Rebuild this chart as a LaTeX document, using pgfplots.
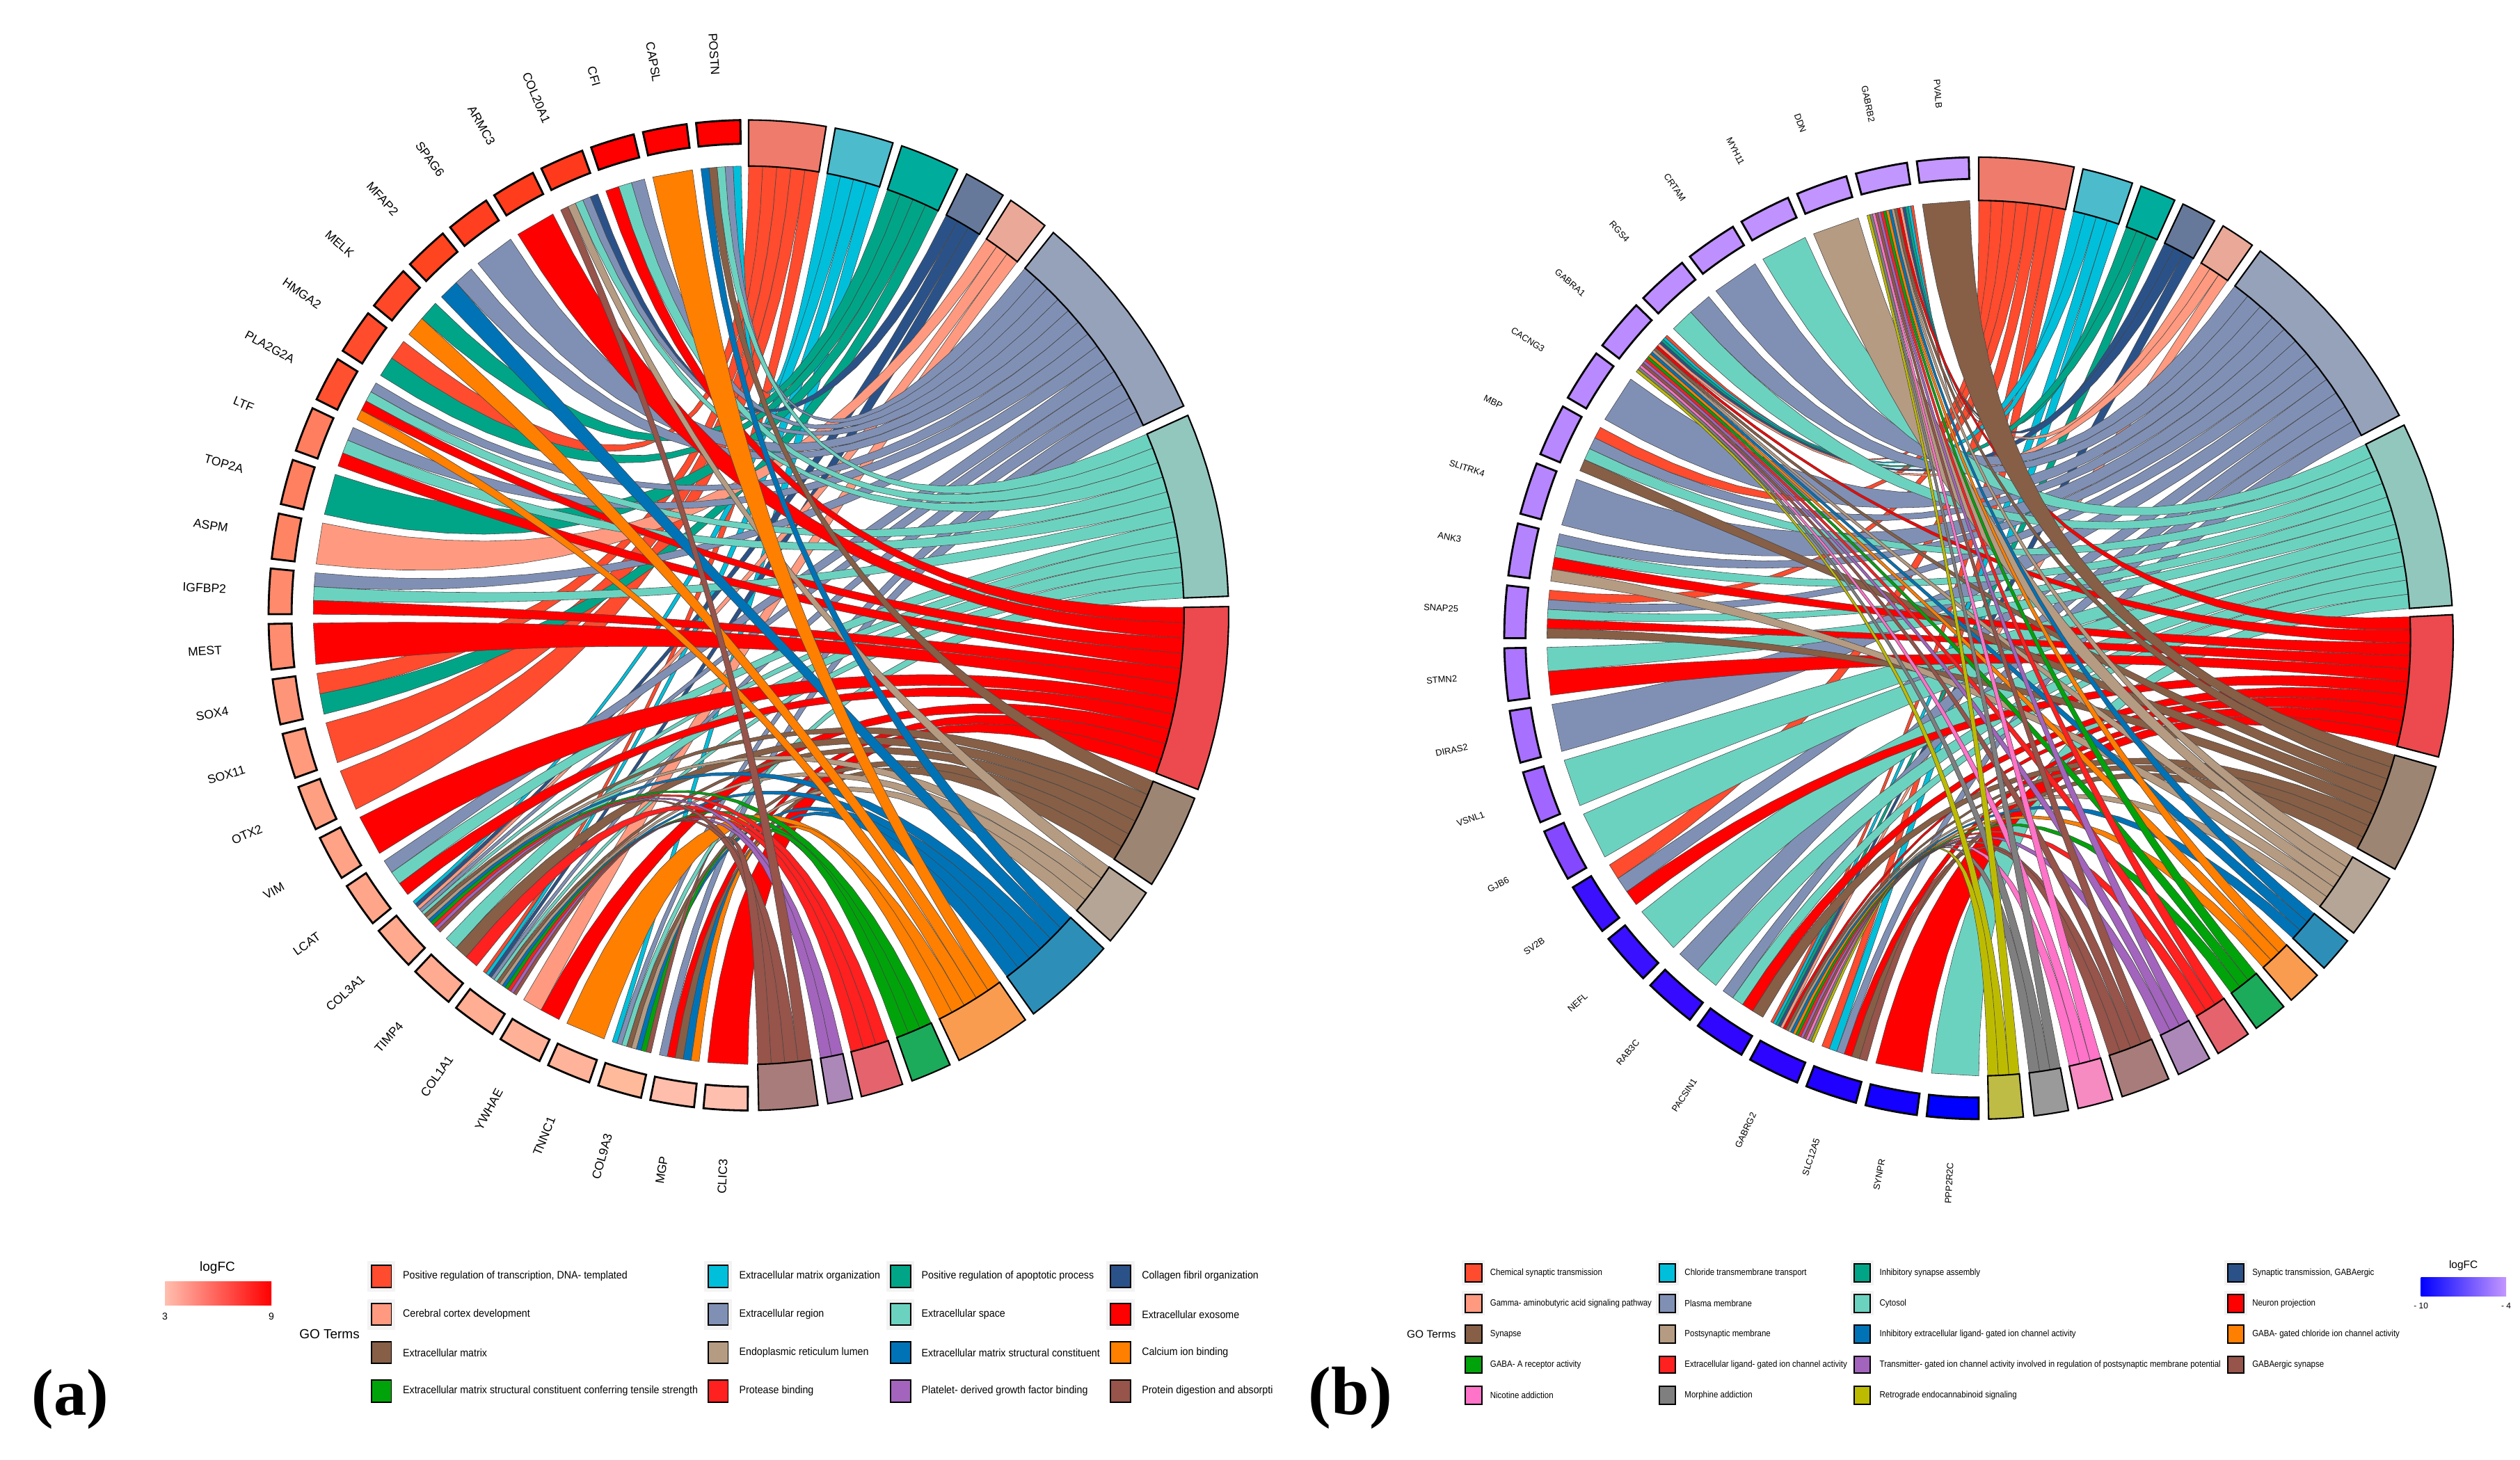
\documentclass[border=0pt]{standalone}
\usepackage{fontspec}
\setmainfont{Liberation Sans}
\newfontfamily\lserif{Liberation Serif}
\usepackage{pgfplots}
\pgfplotsset{compat=1.18}

% ribbon colours
\definecolor{r1}{HTML}{FF4B2E}\definecolor{r2}{HTML}{00BFDB}\definecolor{r3}{HTML}{00A587}
\definecolor{r4}{HTML}{2B5288}\definecolor{r5}{HTML}{FF9A80}\definecolor{r6}{HTML}{8090B5}
\definecolor{r7}{HTML}{6CD2C0}\definecolor{r8}{HTML}{FF0000}\definecolor{r9}{HTML}{865F46}
\definecolor{r10}{HTML}{B59B82}\definecolor{r11}{HTML}{0073B7}\definecolor{r12}{HTML}{FF7F00}
\definecolor{r13}{HTML}{00A30A}\definecolor{r14}{HTML}{FF2020}\definecolor{r15}{HTML}{A264BC}
\definecolor{r16}{HTML}{96544A}\definecolor{r17}{HTML}{FF73C8}\definecolor{r18}{HTML}{7F7F7F}
\definecolor{r19}{HTML}{BDBB00}
% term band colours
\definecolor{s1}{HTML}{EE7B6C}\definecolor{s2}{HTML}{4CBBCC}\definecolor{s3}{HTML}{00AD9D}
\definecolor{s4}{HTML}{66799B}\definecolor{s5}{HTML}{E9A898}\definecolor{s6}{HTML}{95A2B9}
\definecolor{s7}{HTML}{92C7BE}\definecolor{s8}{HTML}{EC4A4E}\definecolor{s9}{HTML}{9D8574}
\definecolor{s10}{HTML}{B5A596}\definecolor{s11}{HTML}{2D8FB8}\definecolor{s12}{HTML}{F99C50}
\definecolor{s13}{HTML}{1BAB5B}\definecolor{s14}{HTML}{E5636C}\definecolor{s15}{HTML}{AC88B8}
\definecolor{s16}{HTML}{A87C7A}\definecolor{s17}{HTML}{F58BC0}\definecolor{s18}{HTML}{9A9A9A}
\definecolor{s19}{HTML}{BFBC45}
\definecolor{keybg}{HTML}{F3F3F3}
\definecolor{rib}{HTML}{444444}
\definecolor{barlow}{HTML}{FFBFAF}
\definecolor{barhigh}{HTML}{C497FF}

% angles are degrees clockwise from the top of the ring
\def\cx{0}\def\cy{0}\def\rx{1}\def\ry{1}\def\rc{.907}\def\rg{.952}\def\gstyle{agene}
\def\bzlist{1/0,.9025/.0025,.81/.01,.7225/.0225,.64/.04,.5625/.0625,.49/.09,.4225/.1225,.36/.16,.3025/.2025,.25/.25,.2025/.3025,.16/.36,.1225/.4225,.09/.49,.0625/.5625,.04/.64,.0225/.7225,.01/.81,.0025/.9025,0/1}
\def\arclist{0,.1,.2,.3,.4,.5,.6,.7,.8,.9,1}

\newcommand\addedge[2]{%
  \pgfmathsetmacro\Ax{\rc*\rx*sin(#1)}\pgfmathsetmacro\Ay{-\rc*\ry*cos(#1)}%
  \pgfmathsetmacro\Bx{\rc*\rx*sin(#2)}\pgfmathsetmacro\By{-\rc*\ry*cos(#2)}%
  \foreach \u/\v in \bzlist {%
    \pgfmathsetmacro\X{\cx+\u*\Ax+\v*\Bx}\pgfmathsetmacro\Y{\cy+\u*\Ay+\v*\By}%
    \xdef\pts{\pts (\X,\Y)}}}
% one ribbon: colour, gene start, gene end, term start, term end
\def\C#1 #2 #3 #4 #5;{%
  \gdef\pts{}\addedge{#2}{#5}\addedge{#4}{#3}%
  \edef\tmp{\noexpand\addplot[fill=#1,draw=rib,line width=.16pt,line join=round] coordinates {\pts} --cycle;}\tmp}

% ring segment: colour, start, end, inner radius, line width
\newcommand\band[5]{%
  \gdef\pts{}%
  \foreach \f in \arclist {%
    \pgfmathsetmacro\a{#2+\f*(#3-#2)}%
    \pgfmathsetmacro\X{\cx+\rx*sin(\a)}\pgfmathsetmacro\Y{\cy-\ry*cos(\a)}%
    \xdef\pts{\pts (\X,\Y)}}%
  \foreach \f in \arclist {%
    \pgfmathsetmacro\a{#3+\f*(#2-#3)}%
    \pgfmathsetmacro\X{\cx+#4*\rx*sin(\a)}\pgfmathsetmacro\Y{\cy-#4*\ry*cos(\a)}%
    \xdef\pts{\pts (\X,\Y)}}%
  \edef\tmp{\noexpand\addplot[fill=#1,draw=black,line width=#5,line join=miter] coordinates {\pts} --cycle;}\tmp}
\newcommand\T[3]{\band{#1}{#2}{#3}{\rc}{.6pt}}
\newcommand\G[4]{%
  \definecolor{gene#4}{HTML}{#1}%
  \band{gene#4}{#2}{#3}{\rg}{.8pt}%
  \pgfmathsetmacro\a{(#2+#3)/2}%
  \pgfmathsetmacro\lx{\cx+1.135*\rx*sin(\a)}\pgfmathsetmacro\ly{\cy-1.135*\ry*cos(\a)}%
  \pgfmathsetmacro\rot{270-\a}%
  \edef\tmp{\noexpand\node[\gstyle,rotate=\rot] at (axis cs:\lx,\ly) {#4};}\tmp}
\newcommand\swatch[5]{\addplot[fill=#1,draw=black,line width=.55pt] coordinates {(#2,#3)(#4,#3)(#4,#5)(#2,#5)} --cycle;}
\newcommand\keybg[4]{\addplot[fill=keybg,draw=none] coordinates {(#1,#2)(#3,#2)(#3,#4)(#1,#4)} --cycle;}

\tikzset{
  agene/.style={inner sep=0pt,font=\fontsize{5}{6}\selectfont},
  bgene/.style={inner sep=0pt,font=\fontsize{3.7}{4.5}\selectfont},
  lega/.style={anchor=west,inner sep=0pt,xscale=.92,font=\fontsize{4.4}{5}\selectfont},
  legb/.style={anchor=west,inner sep=0pt,xscale=.885,font=\fontsize{3.7}{4.5}\selectfont},
}

\begin{document}
\begin{tikzpicture}
\begin{axis}[
  scale only axis, width=36.22cm, height=20.99cm,
  xmin=0, xmax=3622, ymin=0, ymax=2099, y dir=reverse,
  ticks=none, axis line style={draw=none}, clip=false,
]
% ---------- panel (a)
\def\cx{1076}\def\cy{884.5}\def\rx{690}\def\ry{712}\def\rc{.907}\def\rg{.952}\def\gstyle{agene}
\C r1 304.92 307.57 0 1.86;
\C r1 259.91 262.56 1.86 3.72;
\C r1 250.83 256.13 3.72 5.58;
\C r1 244.4 249.7 5.58 7.44;
\C r1 217.11 217.55 7.44 9.3;
\C r2 357.95 359.01 10.4 12.18;
\C r2 229.97 230.41 12.18 13.95;
\C r2 216.67 217.11 13.95 15.73;
\C r2 197.6 198.26 15.73 17.5;
\C r3 311.35 314 18.6 20.4;
\C r3 302.27 304.92 20.4 22.2;
\C r3 282.98 288.28 22.2 24;
\C r3 257.26 259.91 24 25.8;
\C r4 338.66 339.72 27 28.67;
\C r4 229.53 229.97 28.67 30.33;
\C r4 216.23 216.67 30.33 32;
\C r5 276.55 281.85 33.1 34.77;
\C r5 229.09 229.53 34.77 36.43;
\C r5 208.47 211.12 36.43 38.1;
\C r6 356.89 357.95 39.4 41.37;
\C r6 344.38 346.15 41.37 43.34;
\C r6 337.6 338.66 43.34 45.31;
\C r6 321.56 326.86 45.31 47.28;
\C r6 317.78 320.43 47.28 49.25;
\C r6 299.82 301.14 49.25 51.22;
\C r6 292.94 294.71 51.22 53.18;
\C r6 273.65 275.42 53.18 55.15;
\C r6 235.07 236.84 55.15 57.12;
\C r6 228.64 229.09 57.12 59.09;
\C r6 215.78 216.23 59.09 61.06;
\C r6 196.94 197.6 61.06 63.03;
\C r6 190.77 191.83 63.03 65;
\C r7 355.83 356.89 66.2 68.16;
\C r7 342.62 344.38 68.16 70.13;
\C r7 336.54 337.6 70.13 72.09;
\C r7 298.49 299.82 72.09 74.05;
\C r7 291.18 292.94 74.05 76.02;
\C r7 271.89 273.65 76.02 77.98;
\C r7 233.31 235.07 77.98 79.95;
\C r7 228.2 228.64 79.95 81.91;
\C r7 222.21 223.98 81.91 83.87;
\C r7 215.34 215.78 83.87 85.84;
\C r7 196.27 196.94 85.84 87.8;
\C r8 340.85 342.62 89 90.96;
\C r8 327.99 333.29 90.96 92.93;
\C r8 297.17 298.49 92.93 94.89;
\C r8 289.41 291.18 94.89 96.85;
\C r8 270.12 271.89 96.85 98.82;
\C r8 263.69 268.99 98.82 100.78;
\C r8 237.97 243.27 100.78 102.75;
\C r8 231.54 233.31 102.75 104.71;
\C r8 205.82 208.47 104.71 106.67;
\C r8 189.71 190.77 106.67 108.64;
\C r8 180.1 185.4 108.64 110.6;
\C r9 354.77 355.83 111.7 113.57;
\C r9 227.76 228.2 113.57 115.43;
\C r9 220.45 222.21 115.43 117.3;
\C r9 214.9 215.34 117.3 119.17;
\C r9 195.61 196.27 119.17 121.03;
\C r9 188.65 189.71 121.03 122.9;
\C r10 335.48 336.54 124.1 125.85;
\C r10 227.32 227.76 125.85 127.6;
\C r10 214.46 214.9 127.6 129.35;
\C r10 194.95 195.61 129.35 131.1;
\C r11 353.71 354.77 132.3 134.18;
\C r11 315.13 317.78 134.18 136.07;
\C r11 226.88 227.32 136.07 137.95;
\C r11 214.02 214.46 137.95 139.83;
\C r11 194.29 194.95 139.83 141.72;
\C r11 187.59 188.65 141.72 143.6;
\C r12 347.28 352.58 144.8 146.64;
\C r12 308.7 311.35 146.64 148.48;
\C r12 295.84 297.17 148.48 150.32;
\C r12 199.39 204.69 150.32 152.16;
\C r12 186.53 187.59 152.16 154;
\C r13 226.44 226.88 155.2 156.83;
\C r13 213.58 214.02 156.83 158.47;
\C r13 193.62 194.29 158.47 160.1;
\C r14 225.99 226.44 161.3 163;
\C r14 218.68 220.45 163 164.7;
\C r14 213.13 213.58 164.7 166.4;
\C r15 225.55 225.99 167.5 169;
\C r15 212.69 213.13 169 170.5;
\C r16 334.42 335.48 171.7 173.48;
\C r16 225.11 225.55 173.48 175.25;
\C r16 212.25 212.69 175.25 177.03;
\C r16 192.96 193.62 177.03 178.8;
\T{s1}{0}{9.3}\T{s2}{10.4}{17.5}\T{s3}{18.6}{25.8}\T{s4}{27}{32}
\T{s5}{33.1}{38.1}\T{s6}{39.4}{65}\T{s7}{66.2}{87.8}\T{s8}{89}{110.6}
\T{s9}{111.7}{122.9}\T{s10}{124.1}{131.1}\T{s11}{132.3}{143.6}\T{s12}{144.8}{154}
\T{s13}{155.2}{160.1}\T{s14}{161.3}{166.4}\T{s15}{167.5}{170.5}\T{s16}{171.7}{178.8}
\G{FFBFAF}{180.1}{185.4}{CLIC3}
\G{FFBDAB}{186.53}{191.83}{MGP}
\G{FFBA9C}{192.96}{198.26}{COL9A3}
\G{FFB39A}{199.39}{204.69}{TNNC1}
\G{FFB197}{205.82}{211.12}{YWHAE}
\G{FFAD93}{212.25}{217.55}{COL1A1}
\G{FFAB91}{218.68}{223.98}{TIMP4}
\G{FFA98E}{225.11}{230.41}{COL3A1}
\G{FFA68A}{231.54}{236.84}{LCAT}
\G{FFA286}{237.97}{243.27}{VIM}
\G{FF9F82}{244.4}{249.7}{OTX2}
\G{FF9A7D}{250.83}{256.13}{SOX11}
\G{FF9578}{257.26}{262.56}{SOX4}
\G{FF8C6E}{263.69}{268.99}{MEST}
\G{FF8A6C}{270.12}{275.42}{IGFBP2}
\G{FF8464}{276.55}{281.85}{ASPM}
\G{FF8060}{282.98}{288.28}{TOP2A}
\G{FF7E60}{289.41}{294.71}{LTF}
\G{FF5030}{295.84}{301.14}{PLA2G2A}
\G{FF4C2C}{302.27}{307.57}{HMGA2}
\G{FF4828}{308.7}{314}{MELK}
\G{FF4420}{315.13}{320.43}{MFAP2}
\G{FF3F1F}{321.56}{326.86}{SPAG6}
\G{FF3C1C}{327.99}{333.29}{ARMC3}
\G{FF3A1C}{334.42}{339.72}{COL20A1}
\G{FF0000}{340.85}{346.15}{CFI}
\G{FF0000}{347.28}{352.58}{CAPSL}
\G{FF0000}{353.71}{359.01}{POSTN}
% legend (a)
\addplot[left color=barlow,right color=red,draw=none] coordinates {(237,1843)(390,1843)(390,1877)(237,1877)} --cycle;
\node[font=\fontsize{5.4}{6}\selectfont] at (axis cs:312.5,1823) {logFC};
\node[font=\fontsize{4}{5}\selectfont] at (axis cs:237,1893) {3};
\node[font=\fontsize{4}{5}\selectfont] at (axis cs:390,1893) {9};
\node[font=\fontsize{5.4}{6}\selectfont] at (axis cs:473.5,1918) {GO Terms};
\keybg{528}{1813}{568}{1857}\keybg{528}{1868}{568}{1912}
\keybg{1011.5}{1813}{1052}{1857}\keybg{1011.5}{1868}{1052}{1912}
\keybg{1274}{1813}{1314}{1857}\keybg{1274}{1868}{1314}{1912}
\keybg{1590}{1813}{1631}{1857}\keybg{1590}{1868}{1631}{1912}
\swatch{r1}{534}{1819}{562.5}{1850.7}\swatch{r5}{534}{1874}{562.5}{1905.3}\swatch{r9}{534}{1929}{562.5}{1960}\swatch{r13}{534}{1984}{562.5}{2015.7}
\swatch{r2}{1018}{1819}{1046.5}{1850.7}\swatch{r6}{1018}{1874}{1046.5}{1905.3}\swatch{r10}{1018}{1929}{1046.5}{1960}\swatch{r14}{1018}{1984}{1046.5}{2015.7}
\swatch{r3}{1280}{1819}{1309}{1850.7}\swatch{r7}{1280}{1874}{1309}{1905.3}\swatch{r11}{1280}{1929}{1309}{1960}\swatch{r15}{1280}{1984}{1309}{2015.7}
\swatch{r4}{1596}{1819}{1625}{1850.7}\swatch{r8}{1596}{1874}{1625}{1905.3}\swatch{r12}{1596}{1929}{1625}{1960}\swatch{r16}{1596}{1984}{1625}{2015.7}
\node[lega] at (axis cs:578.5,1835) {Positive regulation of transcription, DNA- templated};
\node[lega] at (axis cs:578.5,1890) {Cerebral cortex development};
\node[lega] at (axis cs:578.5,1945) {Extracellular matrix};
\node[lega] at (axis cs:578.5,2000) {Extracellular matrix structural constituent conferring tensile strength};
\node[lega] at (axis cs:1062,1835) {Extracellular matrix organization};
\node[lega] at (axis cs:1062,1890) {Extracellular region};
\node[lega] at (axis cs:1062,1945) {Endoplasmic reticulum lumen};
\node[lega] at (axis cs:1062,2000) {Protease binding};
\node[lega] at (axis cs:1324,1835) {Positive regulation of apoptotic process};
\node[lega] at (axis cs:1324,1890) {Extracellular space};
\node[lega] at (axis cs:1324,1945) {Extracellular matrix structural constituent};
\node[lega] at (axis cs:1324,2000) {Platelet- derived growth factor binding};
\node[lega] at (axis cs:1640.6,1835) {Collagen fibril organization};
\node[lega] at (axis cs:1640.6,1890) {Extracellular exosome};
\node[lega] at (axis cs:1640.6,1945) {Calcium ion binding};
\node[lega] at (axis cs:1640.6,2000) {Protein digestion and absorpti};
\node[font=\lserif\bfseries\fontsize{27}{30}\selectfont] at (axis cs:101,2012) {(a)};
% ---------- panel (b)
\def\cx{2844}\def\cy{917.5}\def\rx{682}\def\ry{691.5}\def\rc{.91}\def\rg{.955}\def\gstyle{bgene}
\C r1 350.93 351.3 0 1.66;
\C r1 313.43 313.8 1.66 3.31;
\C r1 297.23 298.8 3.31 4.97;
\C r1 275.04 276.3 4.97 6.63;
\C r1 236.7 238.8 6.63 8.29;
\C r1 208.43 208.8 8.29 9.94;
\C r1 200.25 201.3 9.94 11.6;
\C r2 350.56 350.93 12.7 14.25;
\C r2 313.06 313.43 14.25 15.8;
\C r2 208.06 208.43 15.8 17.35;
\C r2 199.2 200.25 17.35 18.9;
\C r3 350.19 350.56 20 21.47;
\C r3 312.69 313.06 21.47 22.93;
\C r3 207.69 208.06 22.93 24.4;
\C r4 349.82 350.19 25.5 26.93;
\C r4 312.32 312.69 26.93 28.37;
\C r4 207.32 207.69 28.37 29.8;
\C r5 349.45 349.82 31 32.4;
\C r5 311.95 312.32 32.4 33.8;
\C r5 206.95 207.32 33.8 35.2;
\C r6 322.5 328.8 36.4 38.57;
\C r6 318.15 321.3 38.57 40.73;
\C r6 300 306.3 40.73 42.9;
\C r6 295.65 297.23 42.9 45.07;
\C r6 285 291.3 45.07 47.23;
\C r6 282.23 283.8 47.23 49.4;
\C r6 273.78 275.04 49.4 51.57;
\C r6 255 261.3 51.57 53.73;
\C r6 234.6 236.7 53.73 55.9;
\C r6 220.65 223.8 55.9 58.07;
\C r6 214.73 216.3 58.07 60.23;
\C r6 198.15 199.2 60.23 62.4;
\C r7 330 336.3 63.7 65.57;
\C r7 315 318.15 65.57 67.43;
\C r7 294.08 295.65 67.43 69.3;
\C r7 280.65 282.23 69.3 71.17;
\C r7 272.52 273.78 71.17 73.03;
\C r7 265.65 268.8 73.03 74.9;
\C r7 247.5 253.8 74.9 76.77;
\C r7 240 246.3 76.77 78.63;
\C r7 225 231.3 78.63 80.5;
\C r7 217.5 220.65 80.5 82.37;
\C r7 213.15 214.73 82.37 84.23;
\C r7 180 186.3 84.23 86.1;
\C r8 349.08 349.45 87.2 88.91;
\C r8 311.58 311.95 88.91 90.62;
\C r8 279.08 280.65 90.62 92.33;
\C r8 271.26 272.52 92.33 94.04;
\C r8 262.5 265.65 94.04 95.75;
\C r8 232.5 234.6 95.75 97.46;
\C r8 211.58 213.15 97.46 99.17;
\C r8 206.58 206.95 99.17 100.88;
\C r8 197.1 198.15 100.88 102.59;
\C r8 187.5 193.8 102.59 104.3;
\C r9 352.5 358.8 105.5 107.15;
\C r9 348.71 349.08 107.15 108.8;
\C r9 311.21 311.58 108.8 110.45;
\C r9 292.5 294.08 110.45 112.1;
\C r9 270 271.26 112.1 113.75;
\C r9 210 211.58 113.75 115.4;
\C r9 206.21 206.58 115.4 117.05;
\C r9 196.05 197.1 117.05 118.7;
\C r10 348.34 348.71 120 121.56;
\C r10 337.5 343.8 121.56 123.12;
\C r10 310.84 311.21 123.12 124.68;
\C r10 277.5 279.08 124.68 126.24;
\C r10 205.84 206.21 126.24 127.8;
\C r11 347.96 348.34 129 130.43;
\C r11 310.46 310.84 130.43 131.87;
\C r11 205.46 205.84 131.87 133.3;
\C r12 347.59 347.96 134.5 135.93;
\C r12 310.09 310.46 135.93 137.37;
\C r12 205.09 205.46 137.37 138.8;
\C r13 347.22 347.59 140 141.4;
\C r13 309.72 310.09 141.4 142.8;
\C r13 204.72 205.09 142.8 144.2;
\C r14 346.85 347.22 145.4 146.83;
\C r14 309.35 309.72 146.83 148.27;
\C r14 204.35 204.72 148.27 149.7;
\C r15 346.48 346.85 150.9 152.3;
\C r15 308.98 309.35 152.3 153.7;
\C r15 203.98 204.35 153.7 155.1;
\C r16 346.11 346.48 156.4 157.9;
\C r16 308.61 308.98 157.9 159.4;
\C r16 203.61 203.98 159.4 160.9;
\C r16 195 196.05 160.9 162.4;
\C r17 345.74 346.11 163.6 165.03;
\C r17 308.24 308.61 165.03 166.47;
\C r17 203.24 203.61 166.47 167.9;
\C r18 345.37 345.74 169.1 170.5;
\C r18 307.87 308.24 170.5 171.9;
\C r18 202.87 203.24 171.9 173.3;
\C r19 345 345.37 174.6 176;
\C r19 307.5 307.87 176 177.4;
\C r19 202.5 202.87 177.4 178.8;
\T{s1}{0}{11.6}\T{s2}{12.7}{18.9}\T{s3}{20}{24.4}\T{s4}{25.5}{29.8}
\T{s5}{31}{35.2}\T{s6}{36.4}{62.4}\T{s7}{63.7}{86.1}\T{s8}{87.2}{104.3}
\T{s9}{105.5}{118.7}\T{s10}{120}{127.8}\T{s11}{129}{133.3}\T{s12}{134.5}{138.8}
\T{s13}{140}{144.2}\T{s14}{145.4}{149.7}\T{s15}{150.9}{155.1}\T{s16}{156.4}{162.4}
\T{s17}{163.6}{167.9}\T{s18}{169.1}{173.3}\T{s19}{174.6}{178.8}
\G{0000FF}{180}{186.3}{PPP2R2C}
\G{1400FF}{187.5}{193.8}{SYNPR}
\G{2000FF}{195}{201.3}{SLC12A5}
\G{2D04FF}{202.5}{208.8}{GABRG2}
\G{3006FF}{210}{216.3}{PACSIN1}
\G{350AFF}{217.5}{223.8}{RAB3C}
\G{3910FF}{225}{231.3}{NEFL}
\G{3A10FF}{232.5}{238.8}{SV2B}
\G{8448FF}{240}{246.3}{GJB6}
\G{A066FF}{247.5}{253.8}{VSNL1}
\G{A870FF}{255}{261.3}{DIRAS2}
\G{AD76FF}{262.5}{268.8}{STMN2}
\G{B27EFF}{270}{276.3}{SNAP25}
\G{B484FF}{277.5}{283.8}{ANK3}
\G{B686FF}{285}{291.3}{SLITRK4}
\G{B888FF}{292.5}{298.8}{MBP}
\G{B98AFF}{300}{306.3}{CACNG3}
\G{BA8CFF}{307.5}{313.8}{GABRA1}
\G{BC8EFF}{315}{321.3}{RGS4}
\G{BE90FF}{322.5}{328.8}{CRTAM}
\G{C092FF}{330}{336.3}{MYH11}
\G{C194FF}{337.5}{343.8}{DDN}
\G{C296FF}{345}{351.3}{GABRB2}
\G{C497FF}{352.5}{358.8}{PVALB}
% legend (b)
\addplot[left color=blue,right color=barhigh,draw=none] coordinates {(3479.6,1836.3)(3602,1836.3)(3602,1863.7)(3479.6,1863.7)} --cycle;
\node[font=\fontsize{4.4}{5}\selectfont] at (axis cs:3540.6,1820) {logFC};
\node[font=\fontsize{3.4}{4}\selectfont] at (axis cs:3479.6,1877) {- 10};
\node[font=\fontsize{3.4}{4}\selectfont] at (axis cs:3602,1877) {- 4};
\node[font=\fontsize{4.4}{5}\selectfont] at (axis cs:2057.4,1918) {GO Terms};
\keybg{2101}{1812}{2134.3}{1848}\keybg{2101}{1856}{2134.3}{1891}
\keybg{2380}{1812}{2413}{1848}\keybg{2380}{1856}{2413}{1891}
\keybg{2660}{1812}{2693}{1848}\keybg{2660}{1856}{2693}{1891}
\keybg{3197}{1812}{3230}{1848}\keybg{3197}{1856}{3230}{1891}
\swatch{r1}{2105.6}{1817}{2129.7}{1843}\swatch{r5}{2105.6}{1861.3}{2129.7}{1886.7}\swatch{r9}{2105.6}{1905.3}{2129.7}{1931}\swatch{r13}{2105.6}{1949.7}{2129.7}{1974.3}\swatch{r17}{2105.6}{1992.7}{2129.7}{2018.7}
\swatch{r2}{2385}{1817}{2408}{1843}\swatch{r6}{2385}{1861.3}{2408}{1886.7}\swatch{r10}{2385}{1905.3}{2408}{1931}\swatch{r14}{2385}{1949.7}{2408}{1974.3}\swatch{r18}{2385}{1992.7}{2408}{2018.7}
\swatch{r3}{2665.3}{1817}{2688}{1843}\swatch{r7}{2665.3}{1861.3}{2688}{1886.7}\swatch{r11}{2665.3}{1905.3}{2688}{1931}\swatch{r15}{2665.3}{1949.7}{2688}{1974.3}\swatch{r19}{2665.3}{1992.7}{2688}{2018.7}
\swatch{r4}{3201.5}{1817}{3225}{1843}\swatch{r8}{3201.5}{1861.3}{3225}{1886.7}\swatch{r12}{3201.5}{1905.3}{3225}{1931}\swatch{r16}{3201.5}{1949.7}{3225}{1974.3}
\node[legb] at (axis cs:2141.2,1829.7) {Chemical synaptic transmission};
\node[legb] at (axis cs:2141.2,1874) {Gamma- aminobutyric acid signaling pathway};
\node[legb] at (axis cs:2141.2,1918) {Synapse};
\node[legb] at (axis cs:2141.2,1962.3) {GABA- A receptor activity};
\node[legb] at (axis cs:2141.2,2006.3) {Nicotine addiction};
\node[legb] at (axis cs:2420.8,1829.7) {Chloride transmembrane transport};
\node[legb] at (axis cs:2420.8,1874) {Plasma membrane};
\node[legb] at (axis cs:2420.8,1918) {Postsynaptic membrane};
\node[legb] at (axis cs:2420.8,1962.3) {Extracellular ligand- gated ion channel activity};
\node[legb] at (axis cs:2420.8,2006.3) {Morphine addiction};
\node[legb] at (axis cs:2701,1829.7) {Inhibitory synapse assembly};
\node[legb] at (axis cs:2701,1874) {Cytosol};
\node[legb] at (axis cs:2701,1918) {Inhibitory extracellular ligand- gated ion channel activity};
\node[legb] at (axis cs:2701,1962.3) {Transmitter- gated ion channel activity involved in regulation of postsynaptic membrane potential};
\node[legb] at (axis cs:2701,2006.3) {Retrograde endocannabinoid signaling};
\node[legb] at (axis cs:3236.6,1829.7) {Synaptic transmission, GABAergic};
\node[legb] at (axis cs:3236.6,1874) {Neuron projection};
\node[legb] at (axis cs:3236.6,1918) {GABA- gated chloride ion channel activity};
\node[legb] at (axis cs:3236.6,1962.3) {GABAergic synapse};
\node[font=\lserif\bfseries\fontsize{28}{30}\selectfont] at (axis cs:1941,2010) {(b)};
\end{axis}
\end{tikzpicture}
\end{document}
